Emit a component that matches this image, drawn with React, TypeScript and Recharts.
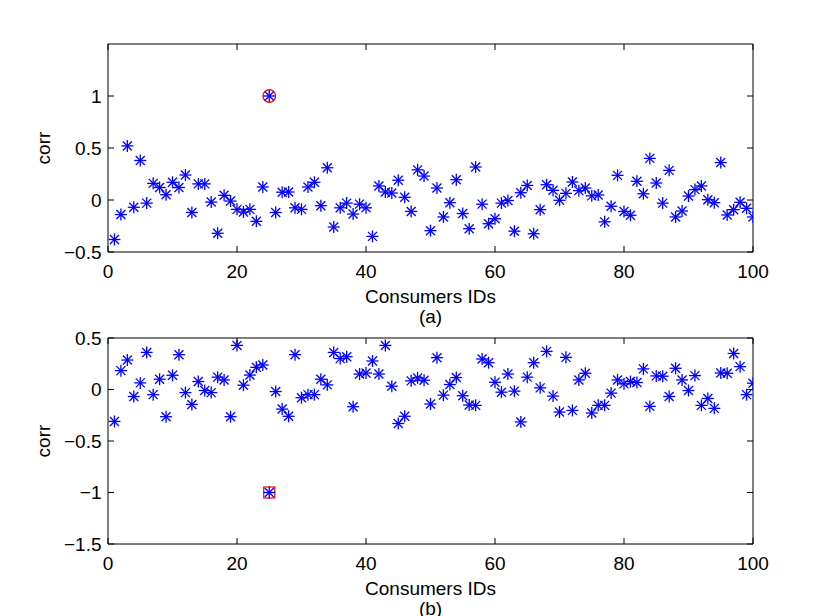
import React from 'react';
import { ScatterChart, Scatter, XAxis, YAxis, Label } from 'recharts';

// consumer ids on the x axis
const consumerIds = Array.from({ length: 100 }, (_, i) => i + 1);

// (a) correlation per consumer
const corrA = [
  -0.38, -0.14, 0.52, -0.07, 0.38, -0.03, 0.16, 0.12, 0.05, 0.17,
  0.12, 0.24, -0.12, 0.155, 0.155, -0.02, -0.32, 0.045, -0.01, -0.09,
  -0.115, -0.09, -0.205, 0.125, 1.0, -0.12, 0.075, 0.077, -0.075, -0.09,
  0.125, 0.17, -0.055, 0.31, -0.26, -0.075, -0.03, -0.135, -0.04, -0.075,
  -0.35, 0.135, 0.077, 0.067, 0.19, 0.026, -0.11, 0.29, 0.23, -0.295,
  0.115, -0.163, -0.026, 0.195, -0.13, -0.276, 0.317, -0.04, -0.228, -0.18,
  -0.03, -0.005, -0.3, 0.07, 0.14, -0.324, -0.093, 0.147, 0.093, -0.003,
  0.064, 0.173, 0.09, 0.115, 0.04, 0.048, -0.21, -0.06, 0.237, -0.11,
  -0.147, 0.18, 0.06, 0.4, 0.163, -0.03, 0.285, -0.163, -0.106, 0.038,
  0.1, 0.135, 0.003, -0.026, 0.36, -0.144, -0.093, -0.022, -0.08, -0.163,
];

// (b) correlation per consumer
const corrB = [
  -0.31, 0.183, 0.286, -0.068, 0.064, 0.36, -0.05, 0.1, -0.264, 0.138,
  0.338, -0.03, -0.145, 0.077, -0.01, -0.03, 0.12, 0.093, -0.264, 0.428,
  0.042, 0.14, 0.215, 0.238, -1.0, -0.02, -0.19, -0.26, 0.338, -0.08,
  -0.05, -0.05, 0.1, 0.045, 0.36, 0.3, 0.318, -0.167, 0.15, 0.16,
  0.277, 0.15, 0.428, 0.032, -0.33, -0.26, 0.084, 0.113, 0.09, -0.141,
  0.309, -0.055, 0.048, 0.116, -0.061, -0.151, -0.154, 0.296, 0.26, 0.07,
  -0.026, 0.15, -0.016, -0.315, 0.12, 0.26, 0.016, 0.37, -0.064, -0.219,
  0.312, -0.203, 0.093, 0.158, -0.228, -0.154, -0.154, -0.035, 0.093, 0.055,
  0.077, 0.068, 0.2, -0.164, 0.132, 0.129, -0.068, 0.206, 0.093, -0.01,
  0.135, -0.154, -0.087, -0.183, 0.16, 0.158, 0.35, 0.222, -0.05, 0.061,
];

const flaggedId = 25;
const xTicks = [0, 20, 40, 60, 80, 100];
const yTicksA = [-0.5, 0, 0.5, 1];
const yTicksB = [-1.5, -1, -0.5, 0, 0.5];

const FONT = '"Liberation Sans", Arial, Helvetica, sans-serif';
const FS = 19;
const BLUE = '#0000ff';
const RED = '#ff0000';
const TL = 6; // inward tick length

const fmt = (v: number) => (v < 0 ? '\u2212' + Math.abs(v) : String(v));

function Star(props: any) {
  const { cx, cy } = props;
  if (cx == null || cy == null) return <g />;
  const r = 6;
  const d = 4.5;
  return (
    <g stroke={BLUE} strokeWidth={1.3}>
      <line x1={cx - r} y1={cy} x2={cx + r} y2={cy} />
      <line x1={cx} y1={cy - r} x2={cx} y2={cy + r} />
      <line x1={cx - d} y1={cy - d} x2={cx + d} y2={cy + d} />
      <line x1={cx - d} y1={cy + d} x2={cx + d} y2={cy - d} />
    </g>
  );
}

function RedCircle(props: any) {
  const { cx, cy } = props;
  if (cx == null || cy == null) return <g />;
  return <circle cx={cx} cy={cy} r={6.3} fill="none" stroke={RED} strokeWidth={1.2} />;
}

function RedSquare(props: any) {
  const { cx, cy } = props;
  if (cx == null || cy == null) return <g />;
  return <rect x={cx - 5.5} y={cy - 5.5} width={11} height={11} fill="none" stroke={RED} strokeWidth={1.2} />;
}

const BottomTick = (p: any) => (
  <g>
    <line x1={p.x} y1={p.y} x2={p.x} y2={p.y - TL} stroke="#000" />
    <text x={p.x} y={p.y + 26} textAnchor="middle" fontFamily={FONT} fontSize={FS} fill="#000">
      {fmt(p.payload.value)}
    </text>
  </g>
);

const TopTick = (p: any) => <line x1={p.x} y1={p.y} x2={p.x} y2={p.y + TL} stroke="#000" />;

const LeftTick = (p: any) => (
  <g>
    <line x1={p.x} y1={p.y} x2={p.x + TL} y2={p.y} stroke="#000" />
    <text x={p.x - 6.5} y={p.y} dy="0.36em" textAnchor="end" fontFamily={FONT} fontSize={FS} fill="#000">
      {fmt(p.payload.value)}
    </text>
  </g>
);

const RightTick = (p: any) => <line x1={p.x} y1={p.y} x2={p.x - TL} y2={p.y} stroke="#000" />;

const captionLabel = (tag: string) => (props: any) => {
  const { x, y, width } = props.viewBox;
  const cx = x + width / 2;
  return (
    <g fontFamily={FONT} fontSize={FS} fill="#000" textAnchor="middle">
      <text x={cx} y={y + 51}>Consumers IDs</text>
      <text x={cx} y={y + 71}>{tag}</text>
    </g>
  );
};

const corrLabel = (props: any) => {
  const { x, y, height } = props.viewBox;
  const lx = x + 50;
  const ly = y + height / 2;
  return (
    <text x={lx} y={ly} transform={`rotate(-90, ${lx}, ${ly})`} textAnchor="middle" fontFamily={FONT} fontSize={FS} fill="#000">
      corr
    </text>
  );
};

interface PanelProps {
  values: number[];
  domain: [number, number];
  yTicks: number[];
  tag: string;
  mark: (p: any) => React.ReactElement;
  top: number;
  height: number;
  bottomAxis: number;
}

function Panel({ values, domain, yTicks, tag, mark, top, height, bottomAxis }: PanelProps) {
  const data = consumerIds.map((id, i) => ({ id, corr: values[i] }));
  const flagged = data.filter((d) => d.id === flaggedId);
  const axisLine = { stroke: '#000', strokeWidth: 1 };
  return (
    <div style={{ position: 'absolute', left: 0, top }}>
      <ScatterChart width={830} height={height} margin={{ top: 0, right: 0, bottom: 0, left: 0 }}>
        <XAxis
          xAxisId="b" type="number" dataKey="id" domain={[0, 100]} ticks={xTicks} interval={0}
          height={bottomAxis} tickSize={0} tickMargin={0} tickLine={false} axisLine={axisLine}
          tick={BottomTick} allowDataOverflow
        >
          <Label content={captionLabel(tag)} />
        </XAxis>
        <XAxis
          xAxisId="t" orientation="top" type="number" dataKey="id" domain={[0, 100]} ticks={xTicks} interval={0}
          height={44} tickSize={0} tickMargin={0} tickLine={false} axisLine={axisLine}
          tick={TopTick} allowDataOverflow
        />
        <YAxis
          yAxisId="l" type="number" dataKey="corr" domain={domain} ticks={yTicks} interval={0}
          width={108} tickSize={0} tickMargin={0} tickLine={false} axisLine={axisLine}
          tick={LeftTick} allowDataOverflow
        >
          <Label content={corrLabel} />
        </YAxis>
        <YAxis
          yAxisId="r" orientation="right" type="number" dataKey="corr" domain={domain} ticks={yTicks} interval={0}
          width={77} tickSize={0} tickMargin={0} tickLine={false} axisLine={axisLine}
          tick={RightTick} allowDataOverflow
        />
        <Scatter xAxisId="b" yAxisId="l" data={flagged} shape={mark} isAnimationActive={false} />
        <Scatter xAxisId="b" yAxisId="l" data={data} shape={Star} isAnimationActive={false} />
      </ScatterChart>
    </div>
  );
}

export default function App() {
  return (
    <div style={{ position: 'absolute', left: 0, top: 0, width: 830, height: 616, overflow: 'hidden', background: '#fff' }}>
      <Panel values={corrA} domain={[-0.5, 1.5]} yTicks={yTicksA} tag="(a)" mark={RedCircle} top={0} height={330} bottomAxis={78} />
      <Panel values={corrB} domain={[-1.5, 0.5]} yTicks={yTicksB} tag="(b)" mark={RedSquare} top={294} height={322} bottomAxis={72} />
    </div>
  );
}
